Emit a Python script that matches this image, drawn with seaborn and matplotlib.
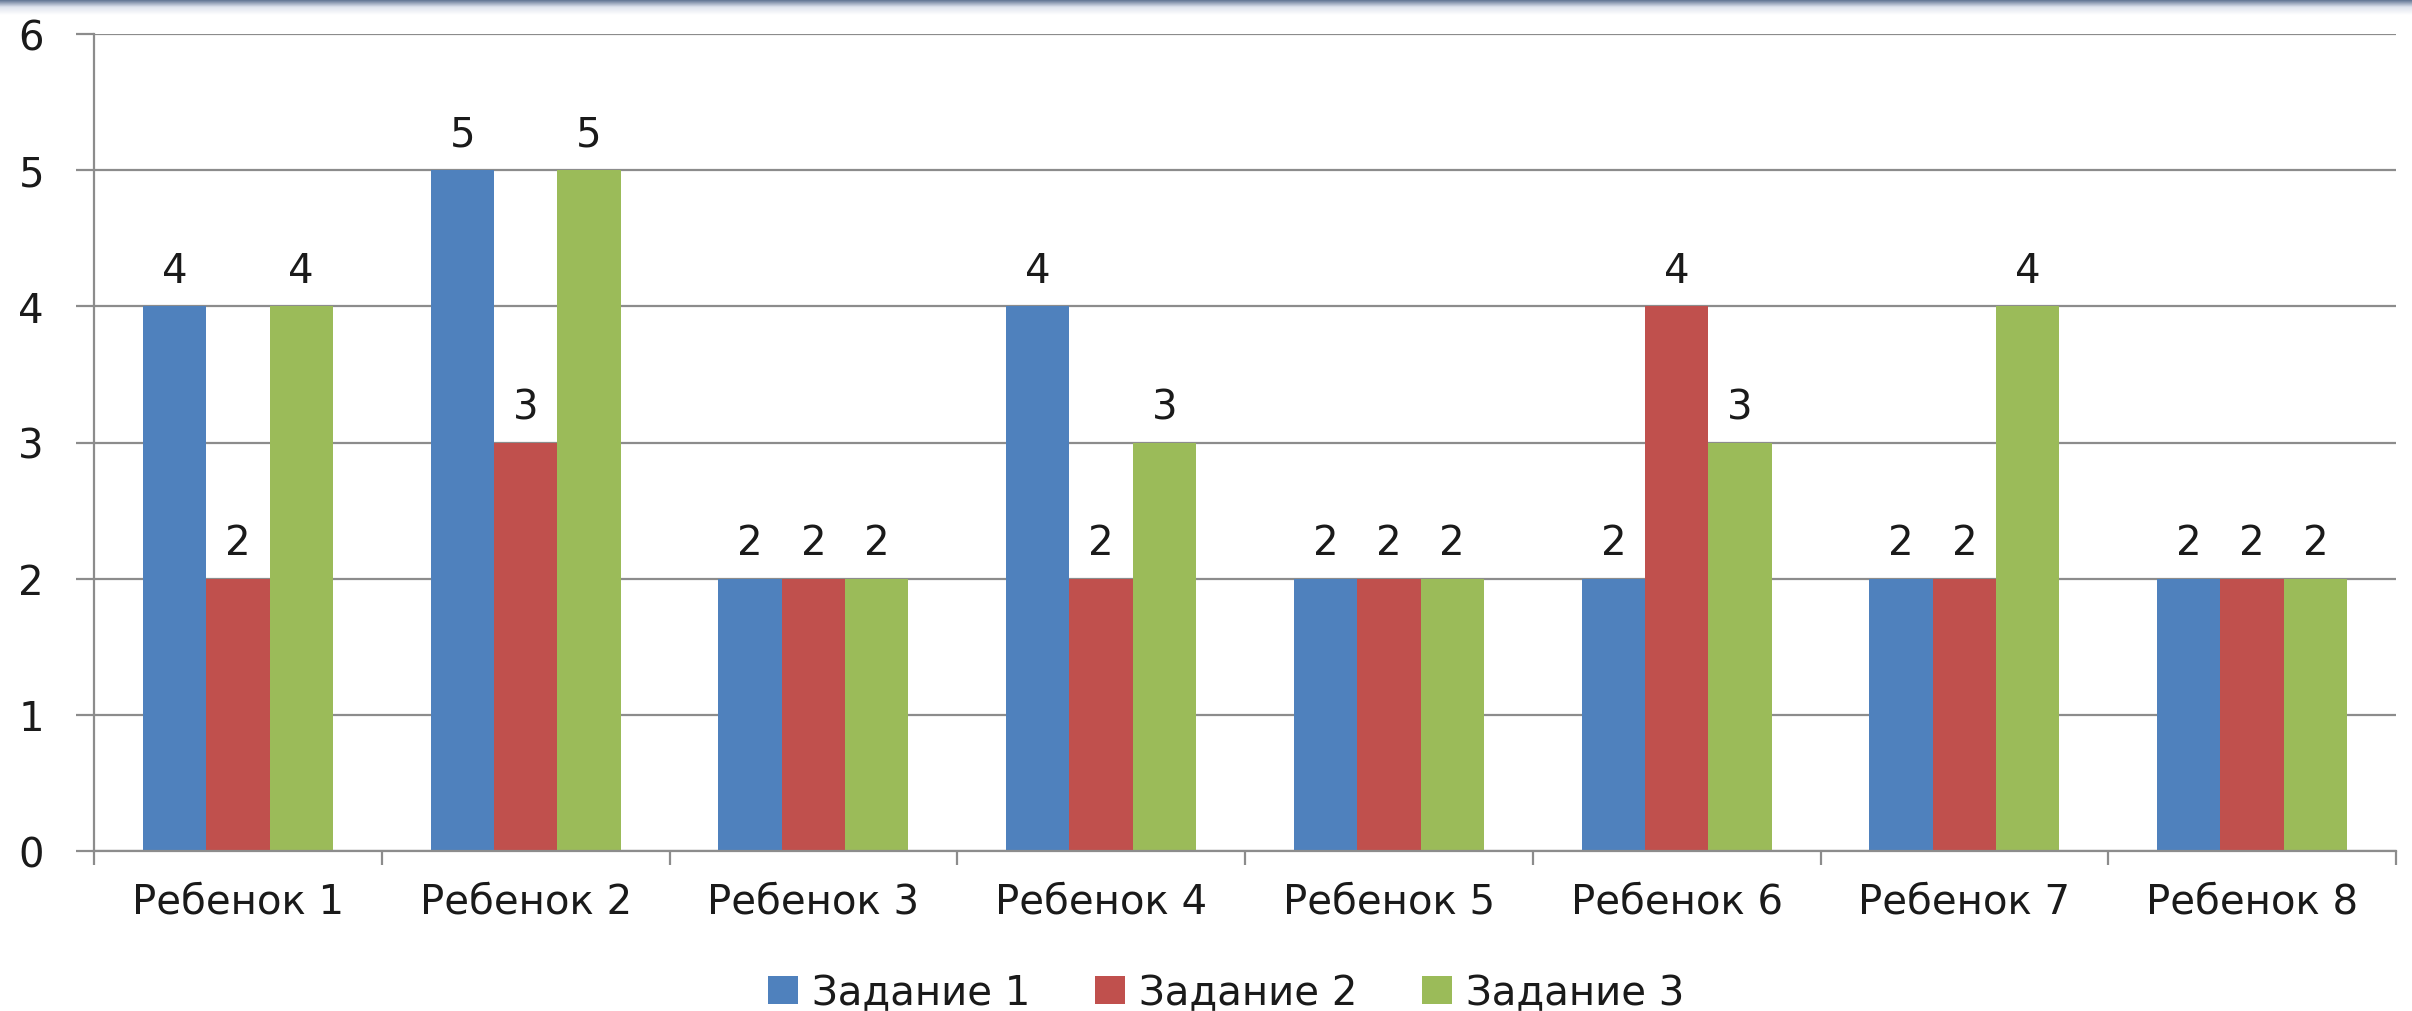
import numpy as np
import pandas as pd
import matplotlib
matplotlib.use("Agg")
import matplotlib.pyplot as plt
import seaborn as sns

# values
children = ["Ребенок 1", "Ребенок 2", "Ребенок 3", "Ребенок 4",
            "Ребенок 5", "Ребенок 6", "Ребенок 7", "Ребенок 8"]
tasks = ["Задание 1", "Задание 2", "Задание 3"]
task1 = [4, 5, 2, 4, 2, 2, 2, 2]
task2 = [2, 3, 2, 2, 2, 4, 2, 2]
task3 = [4, 5, 2, 3, 2, 3, 4, 2]
colors = ["#4F81BD", "#C0504D", "#9BBB59"]

df = pd.DataFrame({
    "child": children * 3,
    "task": [tasks[0]] * 8 + [tasks[1]] * 8 + [tasks[2]] * 8,
    "score": task1 + task2 + task3,
})

sns.set_theme(style="white")
plt.rcParams["font.family"] = ["DejaVu Sans"]
text_color = "#1a1a1a"
grid_color = "#8c8c8c"
fs = 29

fig = plt.figure(figsize=(24.12, 10.12), dpi=100)
ax = fig.add_axes([94 / 2412, 1 - 852 / 1012, (2396 - 94) / 2412, (852 - 35) / 1012])

sns.barplot(data=df, x="child", y="score", hue="task", palette=colors,
            width=0.66, saturation=1, linewidth=0, ax=ax,
            order=children, hue_order=tasks)

for cont in ax.containers:
    ax.bar_label(cont, fmt="%d", padding=11, fontsize=fs, color=text_color)

ax.set_ylim(0, 6)
ax.set_xlim(-0.5, len(children) - 0.5)
ax.set_yticks(range(0, 7))
ax.yaxis.grid(True, color=grid_color, linewidth=1.6)
ax.set_axisbelow(True)
ax.set_xlabel("")
ax.set_ylabel("")

for s in ["top", "right"]:
    ax.spines[s].set_visible(False)
for s in ["left", "bottom"]:
    ax.spines[s].set_color(grid_color)
    ax.spines[s].set_linewidth(1.6)

# ticks: labels at category centres, tick marks at boundaries
ax.set_xticks(np.arange(-0.5, len(children)), minor=True)
ax.tick_params(axis="x", which="major", length=0, pad=22, labelsize=fs, labelcolor=text_color)
ax.tick_params(axis="x", which="minor", length=10, width=1.6, color=grid_color, direction="out", bottom=True)
ax.tick_params(axis="y", which="major", length=13, width=1.6, color=grid_color, direction="out",
               left=True, pad=23, labelsize=fs, labelcolor=text_color)

handles, labels = ax.get_legend_handles_labels()
if ax.get_legend() is not None:
    ax.get_legend().remove()
fig.legend(handles, labels, loc="center", bbox_to_anchor=(1226 / 2412, 1 - 994 / 1012),
           ncol=3, frameon=False, fontsize=fs, handlelength=0.75, handleheight=0.7,
           handletextpad=0.35, columnspacing=1.6, labelcolor=text_color)

# slate band along the top edge
band = fig.add_axes([0, 1 - 16 / 1012, 1, 16 / 1012])
grad = np.linspace(0, 1, 64).reshape(-1, 1)
cmap = matplotlib.colors.LinearSegmentedColormap.from_list("band", ["#4f6586", "#dfe4ee", "#ffffff"])
band.imshow(grad, aspect="auto", cmap=cmap, extent=[0, 1, 0, 1])
band.set_axis_off()

fig.savefig("out.png", dpi=100, facecolor="white")
